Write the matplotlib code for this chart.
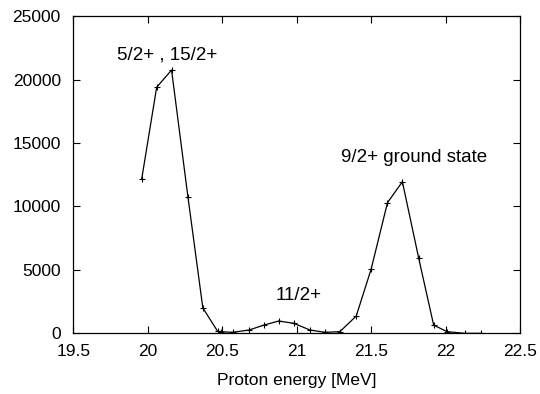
import matplotlib
matplotlib.use('Agg')

import numpy as np
import matplotlib.pyplot as plt
from matplotlib.ticker import FormatStrFormatter

plt.rcParams['font.family'] = ['Liberation Sans', 'DejaVu Sans']
plt.rcParams['font.size'] = 12.5

# proton energy (MeV) vs counts
energy = [19.96, 20.06, 20.16, 20.27, 20.37, 20.47, 20.49, 20.57, 20.68, 20.78,
          20.88, 20.98, 21.09, 21.19, 21.29, 21.40, 21.50, 21.61, 21.71, 21.82,
          21.92, 22.01, 22.13, 22.24]
counts = [12200, 19400, 20750, 10750, 2000, 150, 130, 80, 260, 650,
          970, 790, 260, 80, 130, 1360, 5050, 10300, 11950, 5900,
          650, 130, 0, 0]

xticks = [19.5, 20, 20.5, 21, 21.5, 22, 22.5]
yticks = [0, 5000, 10000, 15000, 20000, 25000]

fig = plt.figure(figsize=(5.4, 3.94), dpi=100)
ax = fig.add_axes([0.1357, 0.154, 0.8273, 0.805])

ax.plot(energy, counts, color='black', lw=0.9, marker='+', ms=4, mew=0.8)

ax.set_xlim(19.5, 22.5)
ax.set_ylim(0, 25000)
ax.set_xticks(xticks)
ax.set_yticks(yticks)
ax.xaxis.set_major_formatter(FormatStrFormatter('%g'))
ax.tick_params(direction='in', top=True, right=True, length=5, width=0.8,
               labelsize=12.5)
ax.tick_params(axis='y', pad=9)
ax.tick_params(axis='x', pad=8)
for s in ax.spines.values():
    s.set_linewidth(0.9)

ax.set_xlabel('Proton energy [MeV]', fontsize=12.5, labelpad=10)

ax.text(20.13, 21900, '5/2+ , 15/2+', ha='center', va='center', fontsize=13.5)
ax.text(21.01, 3020, '11/2+', ha='center', va='center', fontsize=13.5)
ax.text(21.79, 13890, '9/2+ ground state', ha='center', va='center', fontsize=13.5)

plt.savefig('out.png', dpi=100)
